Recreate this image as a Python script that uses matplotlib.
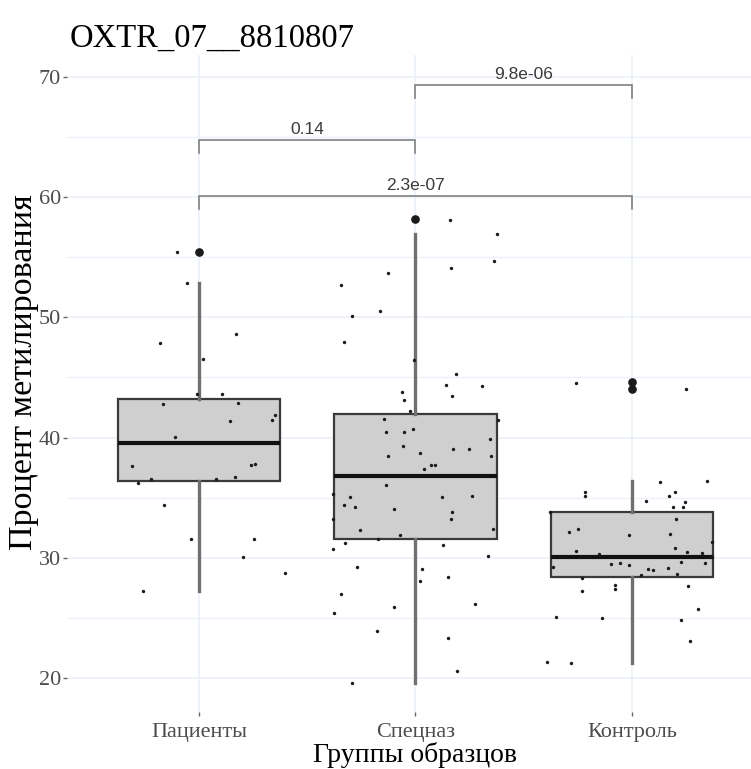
import matplotlib
matplotlib.use("Agg")
import matplotlib.pyplot as plt

# ---- data -------------------------------------------------------------
groups = ["Пациенты", "Спецназ", "Контроль"]

# box statistics per group
q1 = [36.42, 31.55, 28.44]
medians = [39.53, 36.78, 30.10]
q3 = [43.24, 42.00, 33.85]
whisk_lo = [27.21, 19.56, 21.27]
whisk_hi = [52.87, 56.90, 36.35]
outliers = [[55.45], [58.20], [44.60, 44.05]]

# individual samples (value, horizontal jitter offset)
patients_y = [55.45, 52.87, 48.62, 47.85, 46.54, 43.60, 43.63, 42.80, 42.90,
              41.86, 41.46, 41.35, 40.02, 37.64, 37.75, 37.80, 36.25, 36.53,
              36.53, 36.70, 34.42, 31.58, 31.53, 30.10, 28.70, 27.21]
patients_dx = [-0.102, -0.057, 0.170, -0.182, 0.016, -0.009, 0.106, -0.166,
               0.182, 0.350, 0.339, 0.145, -0.109, -0.311, 0.239, 0.259,
               -0.283, -0.224, 0.077, 0.168, -0.163, -0.035, 0.253, 0.203,
               0.397, -0.260]

spetsnaz_y = [58.10, 56.96, 54.69, 54.11, 53.67, 52.72, 50.10, 50.50, 47.98,
              46.48, 45.27, 44.38, 44.29, 43.49, 43.79, 43.15, 42.24, 41.44,
              41.55, 40.44, 40.44, 40.69, 39.91, 39.30, 38.47, 38.72, 39.03,
              39.08, 38.44, 37.41, 37.72, 37.72, 36.03, 35.31, 35.03, 34.37,
              34.25, 34.06, 35.06, 35.14, 33.79, 33.24, 33.24, 32.33, 32.36,
              31.86, 31.53, 31.25, 30.72, 31.03, 30.17, 29.20, 29.06, 28.06,
              28.40, 27.00, 25.43, 25.87, 26.17, 23.87, 23.30, 19.56, 20.58]
spetsnaz_dx = [0.158, 0.376, 0.363, 0.166, -0.125, -0.342, -0.294, -0.165,
               -0.328, -0.006, 0.188, 0.141, 0.309, 0.169, -0.063, -0.053,
               -0.026, 0.382, -0.146, -0.137, -0.053, -0.011, 0.342, -0.060,
               -0.129, 0.021, 0.174, 0.249, 0.349, 0.037, 0.071, 0.091,
               -0.137, -0.381, -0.303, -0.330, -0.279, -0.099, 0.123, 0.263,
               0.169, 0.162, -0.381, -0.256, 0.356, -0.073, -0.171, -0.327,
               -0.383, 0.125, 0.335, -0.268, 0.030, 0.021, 0.152, -0.345,
               -0.376, -0.099, 0.274, -0.180, 0.151, -0.292, 0.193]

control_y = [44.57, 44.02, 36.33, 36.42, 35.45, 35.18, 35.45, 35.10, 34.70,
             34.64, 34.23, 34.23, 33.80, 33.23, 32.14, 32.39, 31.92, 31.98,
             31.34, 30.57, 30.30, 30.80, 30.44, 30.38, 30.05, 29.20, 29.47,
             29.59, 29.39, 29.09, 28.95, 29.17, 29.64, 29.59, 28.55, 28.61,
             28.28, 27.25, 27.75, 27.39, 27.64, 25.72, 25.07, 25.02, 24.80,
             23.07, 21.30, 21.25]
control_dx = [-0.260, 0.249, 0.128, 0.346, -0.218, -0.218, 0.199, 0.173,
              0.065, 0.243, 0.188, 0.236, -0.377, 0.202, -0.291, -0.248,
              -0.014, 0.176, 0.371, -0.260, -0.154, 0.199, 0.256, 0.323,
              0.370, -0.365, -0.098, -0.054, -0.015, 0.074, 0.096, 0.166,
              0.225, 0.339, 0.042, 0.208, -0.231, -0.231, -0.079, -0.079,
              0.257, 0.305, -0.351, -0.140, 0.228, 0.267, -0.394, -0.281]

# pairwise comparisons
pairs = [(1, 2), (2, 3), (1, 3)]
pair_heights = [64.76, 69.33, 60.10]
pair_labels = ["0.14", "9.8e-06", "2.3e-07"]

title = "OXTR_07__8810807"
x_label = "Группы образцов"
y_label = "Процент метилирования"

# ---- figure -----------------------------------------------------------
serif = "Liberation Serif"
sans = "Liberation Sans"
grid_col = "#edf2fa"
tick_col = "#4d4d4d"

fig = plt.figure(figsize=(7.51, 7.69), dpi=100)
ax = fig.add_axes([67 / 751, 1 - 712 / 769, 684 / 751, 657 / 769])

positions = list(range(1, len(groups) + 1))
stats = []
for i, g in enumerate(groups):
    stats.append(dict(label=g, q1=q1[i], med=medians[i], q3=q3[i],
                      whislo=whisk_lo[i], whishi=whisk_hi[i],
                      fliers=outliers[i]))

ax.bxp(stats, positions=positions, widths=0.75, patch_artist=True,
       showcaps=False,
       boxprops=dict(facecolor="#cfcfcf", edgecolor="#3a3a3a", linewidth=1.6),
       medianprops=dict(color="#111111", linewidth=3.0),
       whiskerprops=dict(color="#707070", linewidth=2.4),
       flierprops=dict(marker="o", markerfacecolor="#1a1a1a",
                       markeredgecolor="#1a1a1a", markersize=5.2),
       zorder=2)

for pos, ys, dxs in zip(positions, [patients_y, spetsnaz_y, control_y],
                        [patients_dx, spetsnaz_dx, control_dx]):
    xs = [pos + d for d in dxs]
    ax.scatter(xs, ys, s=6, color="#1a1a1a", zorder=3, linewidths=0)

tip = 1.1
for (a, b), h, lab in zip(pairs, pair_heights, pair_labels):
    ax.plot([a, a, b, b], [h - tip, h, h, h - tip], color="#808080",
            linewidth=1.2, zorder=2, solid_joinstyle="miter")
    ax.annotate(lab, xy=((a + b) / 2, h), xytext=(0, 2.5),
                textcoords="offset points", ha="center", va="bottom",
                fontsize=12.5, family=sans, color="#3a3a3a")

ax.set_xlim(0.39, 3.55)
ax.set_ylim(17.17, 71.83)
ax.set_xticks(positions)
ax.set_xticklabels(groups)
ax.set_yticks([20, 30, 40, 50, 60, 70])
ax.set_yticks([25, 35, 45, 55, 65], minor=True)
ax.grid(True, which="major", color=grid_col, linewidth=1.3, zorder=0)
ax.grid(True, which="minor", axis="y", color=grid_col, linewidth=1.0, zorder=0)
ax.set_axisbelow(True)
for s in ax.spines.values():
    s.set_visible(False)

ax.tick_params(axis="both", which="major", length=3, width=1,
               color="#666666", labelcolor=tick_col, labelsize=16)
ax.tick_params(axis="y", pad=1.5)
ax.tick_params(axis="x", pad=5)
ax.tick_params(which="minor", length=0)
for lbl in ax.get_xticklabels() + ax.get_yticklabels():
    lbl.set_family(serif)

fig.text(415 / 751, 1 - 762 / 769, x_label, family=serif, fontsize=20,
         color="black", ha="center", va="baseline")
ax.set_ylabel(y_label, family=serif, fontsize=24.5, color="black")
ax.yaxis.set_label_coords(-0.041, 0.518)
fig.text(70 / 751, 1 - 47 / 769, title, family=serif, fontsize=23.5,
         color="black", ha="left", va="baseline")

fig.savefig("out.png", dpi=100)
